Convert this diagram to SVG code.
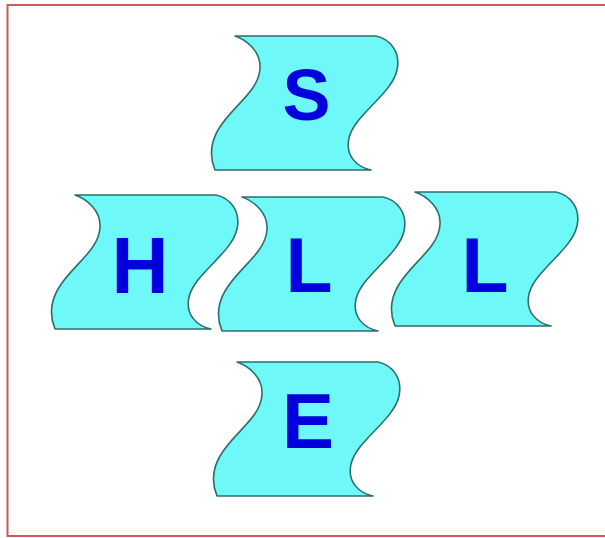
<svg xmlns="http://www.w3.org/2000/svg" width="605" height="538" viewBox="0 0 605 538">
  <style>
    .tape { fill: #6ff8f8; stroke: #2f6d6d; stroke-width: 1.6; stroke-linejoin: round; }
    .lbl { font-family: "Liberation Sans", Arial, sans-serif; font-weight: bold; fill: #0000dd; text-anchor: middle; }
  </style>
  <defs>
    <path id="tapeShape" class="tape" d="M0,0 L141,0 C155,3 166,16 162,34 C157,58 120,78 114,102 C110,120 122,131 136,134 L-20,134 C-25,122 -25,108 -17,94 C-3,70 24,56 25,32 C26,16 12,4 0,0 Z"/>
  </defs>
  <rect x="7.5" y="5" width="620" height="531" fill="#ffffff" stroke="#cc5a5a" stroke-width="2"/>
  <g id="connectors"></g>
  <g id="node-S">
    <use href="#tapeShape" x="235" y="36"/>
    <text class="lbl" x="306.5" y="120" font-size="72">S</text>
  </g>
  <g id="node-H">
    <use href="#tapeShape" x="75" y="195"/>
    <text class="lbl" x="140" y="293" font-size="79">H</text>
  </g>
  <g id="node-L1">
    <use href="#tapeShape" x="242" y="197"/>
    <text class="lbl" x="309" y="292" font-size="77">L</text>
  </g>
  <g id="node-L2">
    <use href="#tapeShape" x="415" y="192"/>
    <text class="lbl" x="485" y="292" font-size="77">L</text>
  </g>
  <g id="node-E">
    <use href="#tapeShape" x="237" y="362"/>
    <text class="lbl" x="308" y="448" font-size="78">E</text>
  </g>
</svg>
